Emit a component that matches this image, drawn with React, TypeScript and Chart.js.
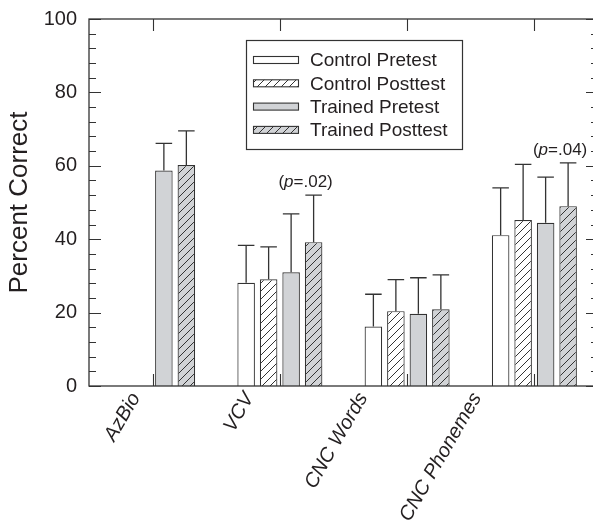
import React, { useEffect, useRef } from "react";
import { Chart, registerables } from "chart.js";

Chart.register(...registerables);

// ---------- data ----------
const categories = ["AzBio", "VCV", "CNC Words", "CNC Phonemes"];
const seriesLabels = ["Control Pretest", "Control Posttest", "Trained Pretest", "Trained Posttest"];

const controlPretest = [null, 28.1, 16.2, 41.1];
const controlPosttest = [null, 29.1, 20.4, 45.2];
const trainedPretest = [58.7, 31.0, 19.7, 44.5];
const trainedPosttest = [60.2, 39.2, 20.9, 49.0];

const controlPretestSD = [null, 10.2, 8.8, 12.9];
const controlPosttestSD = [null, 8.8, 8.6, 15.2];
const trainedPretestSD = [7.4, 15.9, 9.8, 12.4];
const trainedPosttestSD = [9.3, 12.8, 9.4, 11.8];

const pValues = [null, ".02", null, ".04"];
const yTicks = [0, 20, 40, 60, 80, 100];

// ---------- styles ----------
const FONT = "'Liberation Sans', Arial, Helvetica, sans-serif";
const INK = "#231f20";
const LINE = "#333333";
const GRAY = "#d1d3d6";

function hatch(bg: string): CanvasPattern {
  const c = document.createElement("canvas");
  c.width = 8;
  c.height = 8;
  const g = c.getContext("2d")!;
  g.fillStyle = bg;
  g.fillRect(0, 0, 8, 8);
  g.strokeStyle = LINE;
  g.lineWidth = 1;
  g.beginPath();
  g.moveTo(-1, 9);
  g.lineTo(9, -1);
  g.moveTo(-1, 1);
  g.lineTo(1, -1);
  g.moveTo(7, 9);
  g.lineTo(9, 7);
  g.stroke();
  return g.createPattern(c, "repeat")!;
}

const errorPlugin = {
  id: "errorBars",
  afterDatasetsDraw(chart: any) {
    const ctx = chart.ctx;
    const y = chart.scales.y;
    ctx.save();
    ctx.strokeStyle = LINE;
    ctx.lineWidth = 1.3;
    chart.data.datasets.forEach((ds: any, di: number) => {
      const meta = chart.getDatasetMeta(di);
      meta.data.forEach((bar: any, i: number) => {
        const v = ds.data[i];
        const e = ds.errors[i];
        if (v == null || e == null) return;
        const x = bar.x;
        const base = y.getPixelForValue(v);
        const top = y.getPixelForValue(v + e);
        const half = bar.width / 2 - 0.5;
        ctx.beginPath();
        ctx.moveTo(x, base);
        ctx.lineTo(x, top);
        ctx.moveTo(x - half, top);
        ctx.lineTo(x + half, top);
        ctx.stroke();
      });
    });
    ctx.restore();
  },
};

const framePlugin = {
  id: "frame",
  afterDraw(chart: any) {
    const ctx = chart.ctx;
    const { left, right, top, bottom } = chart.chartArea;
    const y = chart.scales.y;
    const x = chart.scales.x;
    ctx.save();
    ctx.strokeStyle = LINE;
    ctx.lineWidth = 1.3;
    ctx.strokeRect(left, top, right - left, bottom - top);
    ctx.lineWidth = 1.1;
    ctx.beginPath();
    for (let v = 0; v <= 100; v += 4) {
      const py = Math.round(y.getPixelForValue(v)) + 0.5;
      const len = v % 20 === 0 ? 12 : 7;
      ctx.moveTo(left, py);
      ctx.lineTo(left + len, py);
      ctx.moveTo(right, py);
      ctx.lineTo(right - len, py);
    }
    categories.forEach((_, i) => {
      const px = Math.round(x.getPixelForValue(i)) + 0.5;
      ctx.moveTo(px, bottom);
      ctx.lineTo(px, bottom - 12);
      ctx.moveTo(px, top);
      ctx.lineTo(px, top + 12);
    });
    ctx.stroke();

    // category labels (rotated, italic)
    ctx.fillStyle = INK;
    ctx.font = `italic 20px ${FONT}`;
    ctx.textAlign = "right";
    ctx.textBaseline = "middle";
    const x0 = x.getPixelForValue(0);
    categories.forEach((lab, i) => {
      const px = x.getPixelForValue(i);
      const ax = x0 - 17 + (px - x0) * 0.894;
      ctx.save();
      ctx.translate(ax, bottom + 8.5);
      ctx.rotate(-Math.PI / 3);
      ctx.fillText(lab, 0, 0);
      ctx.restore();
    });

    // p-value annotations
    const meta = chart.getDatasetMeta(3);
    const ds = chart.data.datasets[3];
    pValues.forEach((p, i) => {
      if (!p) return;
      const bar: any = meta.data[i];
      const cy = y.getPixelForValue(ds.data[i] + ds.errors[i]) - 13;
      const cx = bar.x - 8;
      const up = `17px ${FONT}`;
      const it = `italic 17px ${FONT}`;
      ctx.font = up;
      const w1 = ctx.measureText("(").width;
      const w3 = ctx.measureText(`=${p})`).width;
      ctx.font = it;
      const w2 = ctx.measureText("p").width;
      let sx = cx - (w1 + w2 + w3) / 2;
      ctx.textAlign = "left";
      ctx.textBaseline = "middle";
      ctx.font = up;
      ctx.fillText("(", sx, cy);
      sx += w1;
      ctx.font = it;
      ctx.fillText("p", sx, cy);
      sx += w2;
      ctx.font = up;
      ctx.fillText(`=${p})`, sx, cy);
    });

    // legend box
    const bx = 246, by = 40, bw = 216, bh = 109;
    ctx.fillStyle = "#ffffff";
    ctx.fillRect(bx, by, bw, bh);
    ctx.strokeStyle = LINE;
    ctx.lineWidth = 1.2;
    ctx.strokeRect(bx + 0.5, by + 0.5, bw, bh);
    chart.data.datasets.forEach((d: any, i: number) => {
      const cy = 60 + i * 23.3;
      ctx.fillStyle = d.backgroundColor;
      ctx.fillRect(253, cy - 3.5, 45, 7);
      ctx.lineWidth = 1.1;
      ctx.strokeRect(253.5, cy - 3.5, 45, 7);
      ctx.fillStyle = INK;
      ctx.font = `19px ${FONT}`;
      ctx.textAlign = "left";
      ctx.textBaseline = "middle";
      ctx.fillText(d.label, 310, cy + 1);
    });
    ctx.restore();
  },
};

export default function App() {
  const ref = useRef<HTMLCanvasElement>(null);

  useEffect(() => {
    const canvas = ref.current!;
    const white = "#ffffff";
    const series = [controlPretest, controlPosttest, trainedPretest, trainedPosttest];
    const sds = [controlPretestSD, controlPosttestSD, trainedPretestSD, trainedPosttestSD];
    const fills: any[] = [white, hatch(white), GRAY, hatch(GRAY)];
    const chart = new Chart(canvas, {
      type: "bar",
      data: {
        labels: categories,
        datasets: series.map((d, i) => ({
          label: seriesLabels[i],
          data: d,
          errors: sds[i],
          backgroundColor: fills[i],
          borderColor: LINE,
          borderWidth: 1.2,
          borderSkipped: "start",
          categoryPercentage: 0.707,
          barPercentage: 0.78,
        })) as any,
      },
      options: {
        animation: false,
        responsive: false,
        devicePixelRatio: 1,
        layout: { padding: { top: 19, right: 7, left: 0, bottom: 0 } },
        plugins: { legend: { display: false }, tooltip: { enabled: false } },
        scales: {
          x: {
            grid: { display: false },
            border: { display: false },
            ticks: { display: false },
            afterFit: (s: any) => {
              s.height = 134;
            },
          },
          y: {
            min: 0,
            max: 100,
            afterBuildTicks: (s: any) => {
              s.ticks = yTicks.map((v) => ({ value: v }));
            },
            grid: { display: false, drawTicks: false },
            border: { display: false },
            ticks: {
              padding: 12,
              color: INK,
              font: { family: FONT, size: 20 },
            },
            title: {
              display: true,
              text: "Percent Correct",
              color: INK,
              font: { family: FONT, size: 26 },
              padding: { top: 4, bottom: 0 },
            },
            afterFit: (s: any) => {
              s.width = 89;
              s.paddingTop = 0;
              s.paddingBottom = 0;
            },
          },
        },
      },
      plugins: [errorPlugin, framePlugin],
    });
    return () => chart.destroy();
  }, []);

  return (
    <div
      style={{
        position: "fixed",
        left: 0,
        top: 0,
        width: 593,
        height: 520,
        overflow: "hidden",
        background: "#fff",
      }}
    >
      <canvas ref={ref} width={605} height={520} style={{ display: "block" }} />
    </div>
  );
}
